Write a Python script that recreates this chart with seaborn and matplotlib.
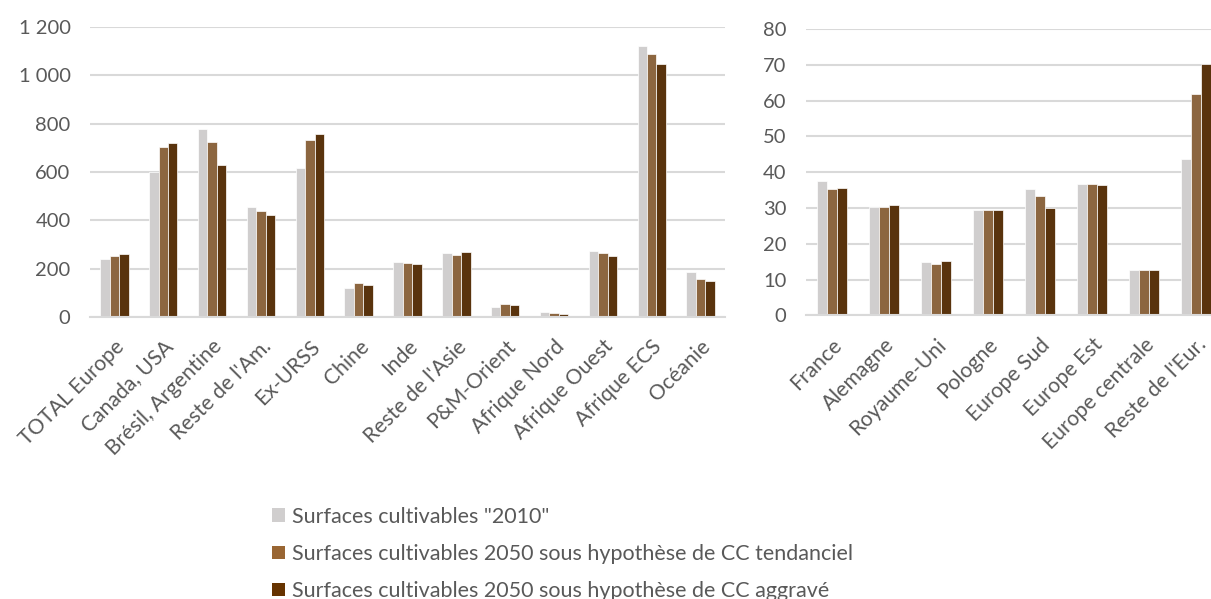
import pandas as pd
import matplotlib.pyplot as plt
import seaborn as sns
from matplotlib.patches import Patch
from matplotlib.ticker import FuncFormatter

# --- Data ---
series = ['Surfaces cultivables "2010"',
          'Surfaces cultivables 2050 sous hypothèse de CC tendanciel',
          'Surfaces cultivables 2050 sous hypothèse de CC aggravé']
colors = ['#D0CECE', '#996633', '#663300']

world_regions = ['TOTAL Europe', 'Canada, USA', 'Brésil, Argentine', "Reste de l'Am.",
                 'Ex-URSS', 'Chine', 'Inde', "Reste de l'Asie", 'P&M-Orient',
                 'Afrique Nord', 'Afrique Ouest', 'Afrique ECS', 'Océanie']
world_2010 = [239, 599, 778, 456, 618, 118, 228, 264, 40, 19, 272, 1121, 188]
world_tend = [252, 702, 724, 438, 734, 140, 224, 256, 53, 15, 265, 1087, 156]
world_aggr = [259, 719, 630, 422, 759, 133, 218, 267, 48, 14, 252, 1049, 148]

europe_regions = ['France', 'Alemagne', 'Royaume-Uni', 'Pologne', 'Europe Sud',
                  'Europe Est', 'Europe centrale', "Reste de l'Eur."]
europe_2010 = [37.4, 30.4, 14.8, 29.5, 35.3, 36.8, 12.8, 43.8]
europe_tend = [35.3, 30.4, 14.4, 29.5, 33.3, 36.7, 12.8, 61.7]
europe_aggr = [35.5, 30.7, 15.3, 29.5, 29.9, 36.4, 12.7, 70.2]


def long_df(regions, *vals):
    rows = []
    for name, v in zip(series, vals):
        for r, x in zip(regions, v):
            rows.append({'region': r, 'serie': name, 'value': x})
    return pd.DataFrame(rows)


df_world = long_df(world_regions, world_2010, world_tend, world_aggr)
df_europe = long_df(europe_regions, europe_2010, europe_tend, europe_aggr)

sns.set_theme(style='white')
plt.rcParams['font.family'] = ['Lato', 'DejaVu Sans']
text_color = '#595959'
grid_color = '#D9D9D9'

fig = plt.figure(figsize=(12.11, 5.99), dpi=100)
ax1 = fig.add_axes([0.0743, 0.4708, 0.5244, 0.4841])
ax2 = fig.add_axes([0.6656, 0.4736, 0.3435, 0.4780])


def draw(ax, df, order, ymax, step, fmt):
    sns.barplot(data=df, x='region', y='value', hue='serie', order=order,
                hue_order=series, palette=colors, width=0.58, gap=0,
                edgecolor='white', linewidth=0.5, legend=False, ax=ax)
    ax.set_ylim(0, ymax)
    ax.set_yticks(range(0, ymax + 1, step))
    ax.yaxis.set_major_formatter(FuncFormatter(fmt))
    ax.set_axisbelow(True)
    ax.grid(axis='y', color=grid_color, linewidth=1.5)
    ax.grid(axis='x', visible=False)
    for s in ['top', 'right', 'left']:
        ax.spines[s].set_visible(False)
    ax.spines['bottom'].set_color(grid_color)
    ax.spines['bottom'].set_linewidth(1.5)
    ax.tick_params(axis='both', length=0, labelcolor=text_color)
    ax.tick_params(axis='y', pad=14, labelsize=14.5)
    ax.tick_params(axis='x', pad=14, labelsize=15.2)
    ax.set_xlabel('')
    ax.set_ylabel('')
    for lab in ax.get_xticklabels():
        lab.set_rotation(45)
        lab.set_ha('right')
        lab.set_rotation_mode('anchor')


draw(ax1, df_world, world_regions, 1200, 200,
     lambda v, p: f'{int(v):,}'.replace(',', ' '))
draw(ax2, df_europe, europe_regions, 80, 10, lambda v, p: f'{int(v)}')

handles = [Patch(facecolor=c, edgecolor='none') for c in colors]
fig.legend(handles, series, loc='upper left', bbox_to_anchor=(0.2154, 0.172),
           frameon=False, fontsize=15.5, labelcolor=text_color,
           handlelength=0.6, handleheight=0.6, handletextpad=0.35,
           labelspacing=0.8, borderpad=0)

fig.savefig('out.png', dpi=100)
